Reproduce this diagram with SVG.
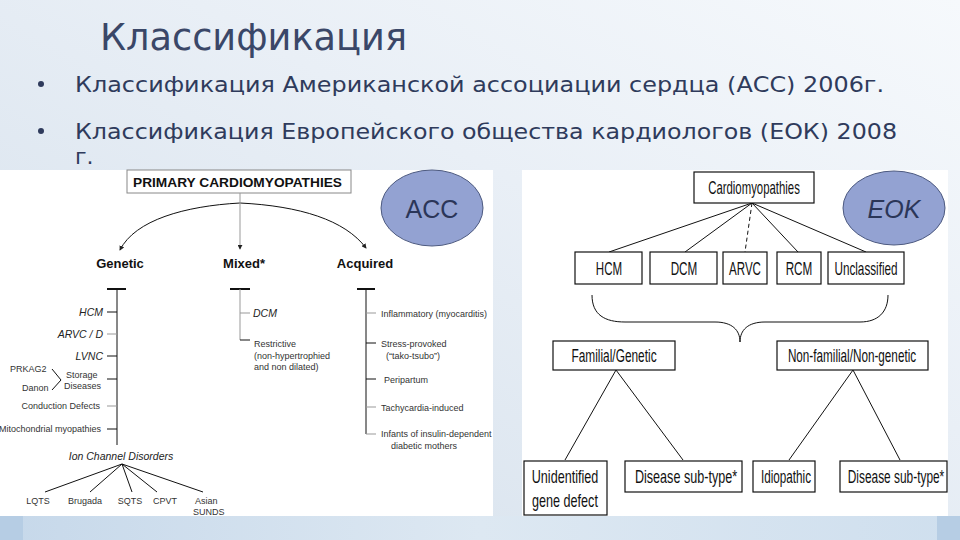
<svg xmlns="http://www.w3.org/2000/svg" width="960" height="540" viewBox="0 0 960 540">
<defs>
<linearGradient id="bg" x1="0" y1="1" x2="1" y2="0">
<stop offset="0" stop-color="#d3dfeb"/>
<stop offset="0.6" stop-color="#e9eff6"/>
<stop offset="1" stop-color="#f6f9fc"/>
</linearGradient>
<linearGradient id="strip" x1="0" y1="0" x2="1" y2="0">
<stop offset="0" stop-color="#c6d8ea"/>
<stop offset="0.5" stop-color="#dde8f2"/>
<stop offset="1" stop-color="#cfdfee"/>
</linearGradient>
<marker id="ah" viewBox="0 0 6 6" refX="5" refY="3" markerWidth="5" markerHeight="5" orient="auto">
<path d="M0,0 L6,3 L0,6 z" fill="#222"/>
</marker>
<style>
.ttl{font-family:"DejaVu Sans",sans-serif;fill:#3a4768}
.bul{font-family:"DejaVu Sans",sans-serif;fill:#2f3b5c;font-size:22px}
.hd{font-family:"Liberation Sans",Arial,sans-serif;font-weight:bold;fill:#111}
.sm{font-family:"Liberation Sans",Arial,sans-serif;font-size:9px;fill:#333}
.it{font-family:"Liberation Sans",Arial,sans-serif;font-size:10.5px;font-style:italic;fill:#222}
.bx{fill:#fff;stroke:#111;stroke-width:1.2}
.rt{font-family:"Liberation Sans",Arial,sans-serif;font-size:17.5px;fill:#111;text-anchor:middle}
.ln{stroke:#111;stroke-width:1;fill:none}
.gl{stroke:#999;stroke-width:1;fill:none}
.tb{stroke:#111;stroke-width:2;fill:none}
.el{fill:#93a2d2;stroke:#4d5a80;stroke-width:1}
.et{font-family:"Liberation Sans",Arial,sans-serif;font-size:25px;fill:#2b3658;text-anchor:middle}
</style>
</defs>
<rect x="0" y="0" width="960" height="540" fill="url(#bg)"/>
<rect x="0" y="516" width="960" height="24" fill="url(#strip)"/>
<rect x="0" y="516" width="23" height="24" fill="#b6cde4"/>
<rect x="937" y="516" width="23" height="24" fill="#b6cde4"/>

<g id="title">
<text class="ttl" x="100" y="50" font-size="37" textLength="307" lengthAdjust="spacingAndGlyphs">Классификация</text>
</g>
<g id="bullets">
<circle cx="41" cy="84" r="3" fill="#2f3b5c"/>
<text class="bul" x="75" y="92" textLength="809" lengthAdjust="spacingAndGlyphs">Классификация Американской ассоциации сердца (АСС) 2006г.</text>
<circle cx="41" cy="131" r="3" fill="#2f3b5c"/>
<text class="bul" x="75" y="139" textLength="822" lengthAdjust="spacingAndGlyphs">Классификация Европейского общества кардиологов (ЕОК) 2008</text>
<text class="bul" x="75" y="164">г.</text>
</g>

<rect x="0" y="170" width="493" height="346" fill="#fff"/>
<rect x="522" y="170" width="426" height="346" fill="#fff"/>

<g id="acc-tree">
<g id="primary">
<rect x="127" y="170" width="224" height="23" fill="#fff" stroke="#888" stroke-width="1"/>
<text class="hd" x="133" y="187" font-size="13" textLength="209" lengthAdjust="spacingAndGlyphs">PRIMARY CARDIOMYOPATHIES</text>
</g>
<g id="acc-connectors">
<path class="ln" d="M240,203 C185,206 135,220 120,250" marker-end="url(#ah)" stroke-width="0.8"/>
<path class="ln" d="M240,203 C300,206 345,220 366,248" marker-end="url(#ah)" stroke-width="0.8"/>
<path class="gl" d="M240,193 L240,249" marker-end="url(#ah)"/>
</g>
<g id="genetic">
<text class="hd" x="120" y="268" font-size="13" text-anchor="middle">Genetic</text>
<path class="tb" d="M107,289 H126"/>
<path class="ln" d="M117,289 V445" stroke-width="1.3"/>
<path class="ln" d="M107,312 H117 M107,356 H117 M107,379 H117 M107,429 H117"/>
<path class="gl" d="M107,334 H117 M107,406 H117"/>
<text class="it" x="103" y="316" text-anchor="end">HCM</text>
<text class="it" x="103" y="338" text-anchor="end">ARVC / D</text>
<text class="it" x="103" y="360" text-anchor="end">LVNC</text>
<text class="sm" x="10" y="372">PRKAG2</text>
<text class="sm" x="22" y="391">Danon</text>
<path class="ln" d="M52,369 L61,380 L52,390" stroke-width="0.8"/>
<text class="sm" x="66" y="378">Storage</text>
<text class="sm" x="64" y="389">Diseases</text>
<text class="sm" x="100" y="409" text-anchor="end">Conduction Defects</text>
<text class="sm" x="101" y="432" text-anchor="end">Mitochondrial myopathies</text>
<text class="it" x="121" y="460" text-anchor="middle" font-size="10">Ion Channel Disorders</text>
<path class="ln" d="M122,464 L45,492 M122,464 L90,492 M122,464 L132,492 M122,464 L157,492 M122,464 L203,492" stroke-width="0.8"/>
<text class="sm" x="38" y="504" text-anchor="middle">LQTS</text>
<text class="sm" x="85" y="504" text-anchor="middle">Brugada</text>
<text class="sm" x="130" y="504" text-anchor="middle">SQTS</text>
<text class="sm" x="165" y="504" text-anchor="middle">CPVT</text>
<text class="sm" x="195" y="504">Asian</text>
<text class="sm" x="193" y="515">SUNDS</text>
</g>
<g id="mixed">
<text class="hd" x="244" y="268" font-size="13" text-anchor="middle">Mixed*</text>
<path class="tb" d="M230,289 H250"/>
<path class="gl" d="M240,289 V340"/>
<path class="gl" d="M240,313 H250"/>
<path class="ln" d="M240,340 H250"/>
<text class="it" x="253" y="317">DCM</text>
<text class="sm" x="254" y="347">Restrictive</text>
<text class="sm" x="254" y="359">(non-hypertrophied</text>
<text class="sm" x="254" y="370">and non dilated)</text>
</g>
<g id="acquired">
<text class="hd" x="365" y="268" font-size="13" text-anchor="middle">Acquired</text>
<path class="tb" d="M357,289 H375"/>
<path class="ln" d="M366,289 V434" stroke-width="1.3"/>
<path class="gl" d="M366,313 H376 M366,407 H376 M366,434 H376"/>
<path class="ln" d="M366,343 H376 M366,379 H376"/>
<text class="sm" x="381" y="317">Inflammatory (myocarditis)</text>
<text class="sm" x="381" y="347">Stress-provoked</text>
<text class="sm" x="386" y="359">(“tako-tsubo”)</text>
<text class="sm" x="384" y="383">Peripartum</text>
<text class="sm" x="381" y="411">Tachycardia-induced</text>
<text class="sm" x="381" y="437">Infants of insulin-dependent</text>
<text class="sm" x="424" y="449" text-anchor="middle">diabetic mothers</text>
</g>
<g id="acc-label">
<ellipse class="el" cx="432" cy="208" rx="51" ry="38"/>
<text class="et" x="432" y="218">ACC</text>
</g>
</g>

<g id="eok-tree">
<g id="eok-connectors">
<path class="ln" d="M752,203 L609,252 M752,203 L685,252 M752,203 L798,252 M752,203 L866,252"/>
<path class="ln" d="M752,203 L745,252" stroke-dasharray="4,3"/>
<path class="ln" d="M592,295 C592,315 605,322 625,322 L715,322 C732,322 740,330 740,342 C740,330 748,322 765,322 L860,322 C878,322 888,312 888,295"/>
<path class="ln" d="M616,370 L565,460 M616,370 L683,460"/>
<path class="ln" d="M853,370 L789,460 M853,370 L900,460"/>
</g>
<g id="n-cardio"><rect class="bx" x="694" y="172" width="120" height="31"/><text class="rt" transform="translate(754,194) scale(0.65,1)">Cardiomyopathies</text></g>
<g id="n-hcm"><rect class="bx" x="575" y="252" width="67" height="32"/><text class="rt" transform="translate(609,275) scale(0.66,1)">HCM</text></g>
<g id="n-dcm"><rect class="bx" x="650" y="252" width="67" height="32"/><text class="rt" transform="translate(684,275) scale(0.67,1)">DCM</text></g>
<g id="n-arvc"><rect class="bx" x="723" y="252" width="44" height="32"/><text class="rt" transform="translate(745,275) scale(0.66,1)">ARVC</text></g>
<g id="n-rcm"><rect class="bx" x="777" y="252" width="44" height="32"/><text class="rt" transform="translate(799,275) scale(0.67,1)">RCM</text></g>
<g id="n-uncl"><rect class="bx" x="828" y="252" width="76" height="32"/><text class="rt" transform="translate(866,275) scale(0.67,1)">Unclassified</text></g>
<g id="n-fam"><rect class="bx" x="553" y="341" width="122" height="29"/><text class="rt" transform="translate(614,362) scale(0.68,1)">Familial/Genetic</text></g>
<g id="n-nonfam"><rect class="bx" x="777" y="341" width="151" height="29"/><text class="rt" transform="translate(852,362) scale(0.67,1)">Non-familial/Non-genetic</text></g>
<g id="n-unid"><rect class="bx" x="524" y="461" width="83" height="54"/><text class="rt" transform="translate(565,483) scale(0.72,1)">Unidentified</text><text class="rt" transform="translate(565,507) scale(0.72,1)">gene defect</text></g>
<g id="n-sub1"><rect class="bx" x="625" y="461" width="117" height="31"/><text class="rt" transform="translate(686,483) scale(0.72,1)">Disease sub-type*</text></g>
<g id="n-idio"><rect class="bx" x="753" y="461" width="62" height="31"/><text class="rt" transform="translate(786,483) scale(0.67,1)">Idiopathic</text></g>
<g id="n-sub2"><rect class="bx" x="840" y="461" width="107" height="31"/><text class="rt" transform="translate(896,483) scale(0.68,1)">Disease sub-type*</text></g>
<g id="eok-label">
<ellipse class="el" cx="894" cy="208" rx="51" ry="37"/>
<text class="et" x="894" y="218" font-style="italic">EOK</text>
</g>
</g>
</svg>
